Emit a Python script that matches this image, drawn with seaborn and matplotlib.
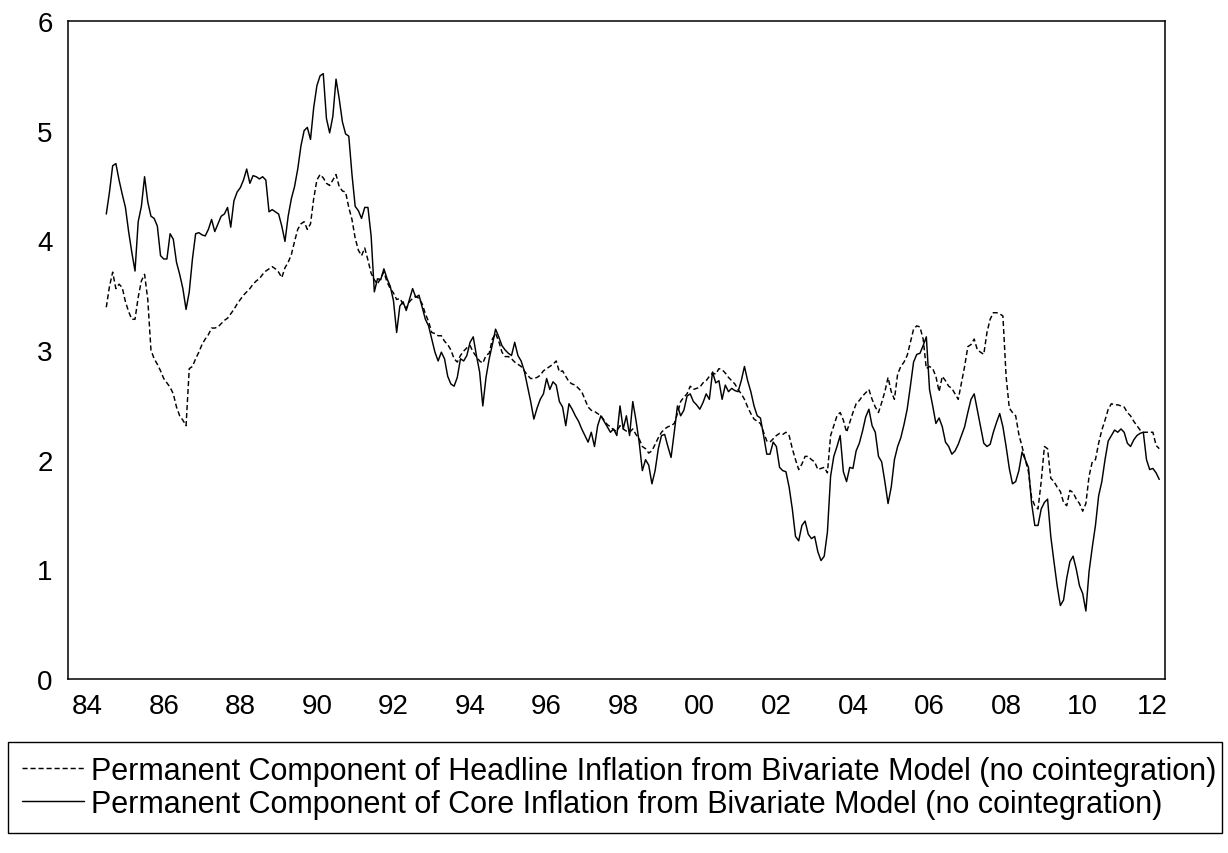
import numpy as np
import pandas as pd
import matplotlib
matplotlib.use("Agg")
import matplotlib.pyplot as plt
import seaborn as sns

# Monthly observations, starting 1985M1
start_year = 1985

headline = [
    # 1985
    3.39, 3.58, 3.71, 3.56, 3.60, 3.57, 3.44, 3.35, 3.28, 3.28, 3.48, 3.63,
    # 1986
    3.69, 3.46, 3.00, 2.92, 2.87, 2.81, 2.74, 2.70, 2.66, 2.60, 2.48, 2.40,
    # 1987
    2.36, 2.31, 2.83, 2.85, 2.92, 2.98, 3.05, 3.10, 3.14, 3.20, 3.20, 3.21,
    # 1988
    3.24, 3.27, 3.29, 3.33, 3.37, 3.42, 3.46, 3.50, 3.53, 3.56, 3.60, 3.63,
    # 1989
    3.65, 3.69, 3.72, 3.74, 3.76, 3.74, 3.71, 3.66, 3.75, 3.80, 3.87, 3.99,
    # 1990
    4.10, 4.15, 4.17, 4.10, 4.15, 4.38, 4.55, 4.60, 4.57, 4.52, 4.50, 4.55,
    # 1991
    4.60, 4.49, 4.45, 4.44, 4.30, 4.19, 4.02, 3.91, 3.86, 3.93, 3.82, 3.70,
    # 1992
    3.64, 3.60, 3.66, 3.71, 3.62, 3.56, 3.52, 3.46, 3.47, 3.42, 3.38, 3.44,
    # 1993
    3.47, 3.49, 3.47, 3.42, 3.33, 3.26, 3.16, 3.15, 3.13, 3.13, 3.08, 3.05,
    # 1994
    3.00, 2.92, 2.89, 2.95, 2.99, 3.02, 3.04, 2.98, 2.94, 2.90, 2.88, 2.95,
    # 1995
    2.97, 3.10, 3.15, 3.08, 2.98, 2.94, 2.94, 2.92, 2.89, 2.87, 2.85, 2.81,
    # 1996
    2.77, 2.74, 2.74, 2.75, 2.77, 2.81, 2.83, 2.85, 2.87, 2.90, 2.80, 2.81,
    # 1997
    2.76, 2.71, 2.69, 2.68, 2.65, 2.62, 2.55, 2.48, 2.45, 2.44, 2.42, 2.40,
    # 1998
    2.36, 2.32, 2.30, 2.27, 2.26, 2.31, 2.28, 2.26, 2.25, 2.28, 2.23, 2.19,
    # 1999
    2.12, 2.10, 2.06, 2.08, 2.14, 2.20, 2.25, 2.28, 2.30, 2.31, 2.33, 2.42,
    # 2000
    2.53, 2.57, 2.60, 2.67, 2.64, 2.65, 2.66, 2.70, 2.72, 2.76, 2.79, 2.78,
    # 2001
    2.83, 2.82, 2.79, 2.75, 2.72, 2.69, 2.64, 2.60, 2.55, 2.48, 2.42, 2.37,
    # 2002
    2.35, 2.33, 2.25, 2.17, 2.16, 2.19, 2.22, 2.24, 2.23, 2.25, 2.22, 2.10,
    # 2003
    2.00, 1.91, 1.96, 2.03, 2.03, 2.00, 1.98, 1.91, 1.92, 1.93, 1.88, 2.22,
    # 2004
    2.31, 2.40, 2.43, 2.36, 2.25, 2.34, 2.43, 2.51, 2.54, 2.58, 2.61, 2.64,
    # 2005
    2.55, 2.48, 2.43, 2.52, 2.62, 2.75, 2.62, 2.55, 2.78, 2.85, 2.89, 2.95,
    # 2006
    3.07, 3.19, 3.22, 3.21, 3.10, 2.83, 2.85, 2.83, 2.76, 2.62, 2.76, 2.72,
    # 2007
    2.67, 2.65, 2.60, 2.55, 2.70, 2.85, 3.03, 3.05, 3.10, 3.00, 2.98, 2.96,
    # 2008
    3.16, 3.28, 3.34, 3.34, 3.33, 3.31, 2.76, 2.47, 2.43, 2.40, 2.23, 2.12,
    # 2009
    2.00, 1.89, 1.65, 1.58, 1.55, 1.80, 2.12, 2.10, 1.83, 1.80, 1.75, 1.71,
    # 2010
    1.61, 1.58, 1.72, 1.70, 1.64, 1.60, 1.53, 1.60, 1.85, 1.98, 2.00, 2.15,
    # 2011
    2.27, 2.36, 2.46, 2.51, 2.50, 2.50, 2.49, 2.48, 2.43, 2.40, 2.35, 2.31,
    # 2012
    2.27, 2.25, 2.25, 2.25, 2.25, 2.13, 2.10,
]

core = [
    # 1985
    4.24, 4.44, 4.68, 4.70, 4.55, 4.42, 4.30, 4.08, 3.89, 3.72, 4.17, 4.31,
    # 1986
    4.58, 4.35, 4.22, 4.20, 4.13, 3.86, 3.83, 3.83, 4.06, 4.01, 3.80, 3.69,
    # 1987
    3.56, 3.37, 3.53, 3.83, 4.06, 4.07, 4.05, 4.04, 4.10, 4.19, 4.08, 4.15,
    # 1988
    4.22, 4.24, 4.30, 4.12, 4.36, 4.44, 4.48, 4.55, 4.65, 4.52, 4.59, 4.58,
    # 1989
    4.56, 4.58, 4.55, 4.26, 4.28, 4.26, 4.24, 4.13, 3.99, 4.22, 4.38, 4.49,
    # 1990
    4.65, 4.86, 5.00, 5.03, 4.92, 5.21, 5.41, 5.50, 5.52, 5.11, 4.98, 5.13,
    # 1991
    5.47, 5.29, 5.08, 4.97, 4.95, 4.60, 4.31, 4.27, 4.20, 4.30, 4.30, 4.04,
    # 1992
    3.53, 3.65, 3.64, 3.74, 3.65, 3.58, 3.45, 3.16, 3.40, 3.44, 3.36, 3.46,
    # 1993
    3.56, 3.48, 3.50, 3.39, 3.28, 3.22, 3.10, 2.98, 2.90, 2.98, 2.92, 2.76,
    # 1994
    2.69, 2.67, 2.75, 2.92, 2.90, 2.95, 3.07, 3.12, 2.95, 2.80, 2.49, 2.75,
    # 1995
    2.92, 3.05, 3.19, 3.12, 3.04, 3.00, 2.97, 2.95, 3.07, 2.95, 2.90, 2.81,
    # 1996
    2.67, 2.53, 2.37, 2.47, 2.55, 2.60, 2.74, 2.64, 2.71, 2.68, 2.53, 2.48,
    # 1997
    2.31, 2.51, 2.46, 2.40, 2.35, 2.28, 2.22, 2.16, 2.25, 2.12, 2.31, 2.40,
    # 1998
    2.35, 2.30, 2.25, 2.28, 2.22, 2.49, 2.28, 2.40, 2.22, 2.53, 2.36, 2.16,
    # 1999
    1.90, 2.00, 1.95, 1.78, 1.90, 2.10, 2.22, 2.23, 2.12, 2.02, 2.25, 2.49,
    # 2000
    2.40, 2.45, 2.58, 2.60, 2.53, 2.50, 2.46, 2.52, 2.60, 2.55, 2.80, 2.70,
    # 2001
    2.72, 2.55, 2.68, 2.62, 2.65, 2.63, 2.62, 2.72, 2.85, 2.72, 2.62, 2.49,
    # 2002
    2.40, 2.38, 2.22, 2.05, 2.05, 2.16, 2.12, 1.93, 1.90, 1.89, 1.75, 1.55,
    # 2003
    1.30, 1.26, 1.40, 1.44, 1.32, 1.28, 1.30, 1.16, 1.08, 1.12, 1.34, 1.85,
    # 2004
    2.03, 2.12, 2.22, 1.89, 1.80, 1.93, 1.92, 2.08, 2.15, 2.26, 2.39, 2.46,
    # 2005
    2.31, 2.25, 2.03, 1.98, 1.80, 1.60, 1.75, 2.00, 2.12, 2.20, 2.32, 2.46,
    # 2006
    2.67, 2.89, 2.96, 2.97, 3.04, 3.12, 2.64, 2.49, 2.33, 2.38, 2.30, 2.16,
    # 2007
    2.12, 2.05, 2.08, 2.14, 2.22, 2.30, 2.43, 2.55, 2.60, 2.45, 2.30, 2.15,
    # 2008
    2.12, 2.14, 2.25, 2.34, 2.42, 2.30, 2.12, 1.92, 1.78, 1.80, 1.90, 2.07,
    # 2009
    2.00, 1.93, 1.60, 1.40, 1.40, 1.55, 1.61, 1.64, 1.30, 1.07, 0.85, 0.67,
    # 2010
    0.72, 0.92, 1.07, 1.12, 1.00, 0.85, 0.78, 0.62, 0.98, 1.20, 1.40, 1.67,
    # 2011
    1.80, 2.00, 2.17, 2.22, 2.27, 2.25, 2.28, 2.25, 2.15, 2.12, 2.18, 2.22,
    # 2012
    2.24, 2.25, 2.00, 1.91, 1.92, 1.88, 1.82,
]

label_headline = "Permanent Component of Headline Inflation from Bivariate Model (no cointegration)"
label_core = "Permanent Component of Core Inflation from Bivariate Model (no cointegration)"

year_ticks = list(range(1984, 2013))
year_labels = ["84", "86", "88", "90", "92", "94", "96", "98",
               "00", "02", "04", "06", "08", "10", "12"]
y_ticks = [0, 1, 2, 3, 4, 5, 6]

# ---------------------------------------------------------------
n = len(core)
t = start_year + np.arange(n) / 12.0
df = pd.DataFrame({
    "t": np.concatenate([t, t]),
    "value": np.concatenate([headline, core]),
    "series": [label_headline] * n + [label_core] * n,
})

sns.set_style("white")
plt.rcParams["font.family"] = ["Liberation Sans", "DejaVu Sans"]
plt.rcParams["text.color"] = "black"

W, H = 1228, 854
fig = plt.figure(figsize=(W / 100, H / 100), dpi=100)
ax = fig.add_axes([68 / W, 1 - 680 / H, 1097 / W, 658 / H])

sns.lineplot(
    data=df, x="t", y="value", style="series",
    dashes={label_headline: (3.5, 2.0), label_core: ""},
    color="black", linewidth=1.05, legend=False, ax=ax,
    style_order=[label_headline, label_core],
)

x_end = 1984 + 1097 / 38.29
ax.set_xlim(1984.0, x_end)
ax.set_ylim(0, 6)

# major ticks at year boundaries (marks only)
ax.set_xticks(year_ticks)
ax.set_xticklabels([])
ax.tick_params(axis="x", which="major", direction="out", length=8, width=1.0, color="black")
# labels centred within each labelled year
lab_pos = [y + 0.5 for y in range(1984, 2012, 2)] + [(2012 + x_end) / 2]
ax.set_xticks(lab_pos, minor=True)
ax.set_xticklabels(year_labels, minor=True)
ax.tick_params(axis="x", which="minor", length=0, pad=10, labelsize=20, labelcolor="black")

ax.set_yticks(y_ticks)
ax.set_yticklabels([str(v) for v in y_ticks])
ax.tick_params(axis="y", direction="out", length=6, width=1.0, pad=5, labelsize=20,
               color="black", labelcolor="black")

for s in ax.spines.values():
    s.set_visible(True)
    s.set_color("black")
    s.set_linewidth(1.1)

ax.set_xlabel("")
ax.set_ylabel("")
ax.grid(False)

handles = ax.get_lines()[:2]
leg = fig.legend(
    handles, [label_headline, label_core],
    loc="upper left",
    bbox_to_anchor=(8 / W, 0, 1214 / W, 1 - 743 / H),
    mode="expand", borderaxespad=0, fontsize=22,
    frameon=True, fancybox=False, framealpha=1, edgecolor="black",
    handlelength=2.05, handletextpad=0.23, labelspacing=0.1, borderpad=0.45,
    labelcolor="black",
)
leg.get_frame().set_linewidth(1.0)

fig.savefig("out.png", dpi=100)
